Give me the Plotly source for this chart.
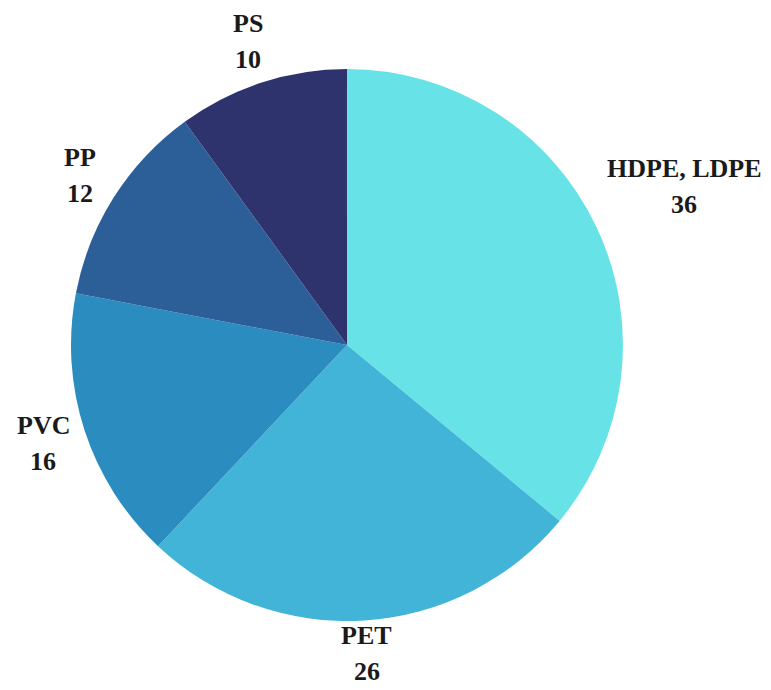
import math
import plotly.graph_objects as go

# Plastic types and their shares
labels = ["HDPE, LDPE", "PET", "PVC", "PP", "PS"]
values = [36, 26, 16, 12, 10]
colors = ["#67E3E8", "#41B4D7", "#2B8CC0", "#2C5E98", "#2E336E"]

W, H = 771, 690
dom_x = [0.0921, 0.808]
dom_y = [0.1, 0.9]
font_family = "Liberation Serif"
font_size = 26
text_color = "#1a1a1a"

fig = go.Figure(
    go.Pie(
        labels=labels,
        values=values,
        sort=False,
        direction="clockwise",
        rotation=0,
        marker=dict(colors=colors, line=dict(width=0)),
        textinfo="none",
        showlegend=False,
        automargin=False,
        hoverinfo="label+value",
        domain=dict(x=dom_x, y=dom_y),
    )
)

# Outside labels: name on one line, value below, placed beyond each slice's
# middle angle so that the text box just clears the rim.
cx = (dom_x[0] + dom_x[1]) / 2 * W
cy = (dom_y[0] + dom_y[1]) / 2 * H
radius = min((dom_x[1] - dom_x[0]) * W, (dom_y[1] - dom_y[0]) * H) / 2
line_gap = 36
cap_h = 20
pad = 12
edge = font_size * 0.7  # keep each text line inside the canvas
total = sum(values)
cum = 0
annotations = []
for lab, val in zip(labels, values):
    mid = (cum + val / 2) / total * 2 * math.pi
    cum += val
    ux, uy = math.sin(mid), math.cos(mid)
    box_w = 0.62 * font_size * max(len(lab), len(str(val)))
    box_h = line_gap + cap_h
    extent = abs(box_w / 2 * ux) + abs(box_h / 2 * uy)
    dist = radius + pad + extent
    lx = cx + ux * dist
    ly = cy + uy * dist
    ly = min(max(ly, edge + line_gap / 2), H - edge - line_gap / 2)
    for text, dy in ((lab, line_gap / 2), (str(val), -line_gap / 2)):
        annotations.append(
            dict(
                x=lx / W,
                y=(ly + dy) / H,
                xref="paper",
                yref="paper",
                text="<b>%s</b>" % text,
                showarrow=False,
                xanchor="center",
                yanchor="middle",
                font=dict(family=font_family, size=font_size, color=text_color),
            )
        )

fig.update_layout(
    width=W,
    height=H,
    margin=dict(l=0, r=0, t=0, b=0),
    paper_bgcolor="white",
    plot_bgcolor="white",
    annotations=annotations,
)

fig.write_html("out.html")
